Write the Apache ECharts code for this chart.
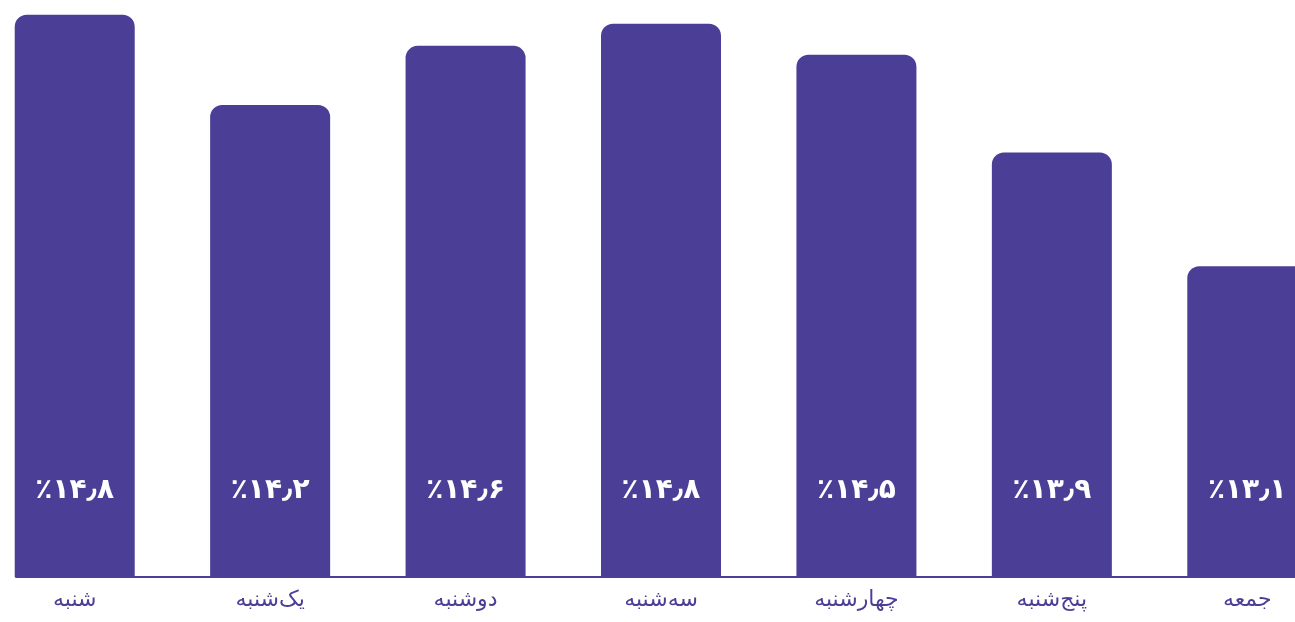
<!DOCTYPE html>
<html>
<head>
<meta charset="utf-8">
<script src="https://cdn.jsdelivr.net/npm/echarts@6/dist/echarts.min.js"></script>
<style>
html,body{margin:0;padding:0;background:#fff;}
#c{width:1295px;height:622px;}
</style>
</head>
<body>
<div id="c"></div>
<script>
const categories = ['شنبه', 'یک‌شنبه', 'دوشنبه', 'سه‌شنبه', 'چهارشنبه', 'پنج‌شنبه', 'جمعه'];
const values = [14.8, 14.19, 14.59, 14.74, 14.53, 13.87, 13.10];
const valueLabels = ['٪۱۴٫۸', '٪۱۴٫۲', '٪۱۴٫۶', '٪۱۴٫۸', '٪۱۴٫۵', '٪۱۳٫۹', '٪۱۳٫۱'];

const purple = '#4b3e96';
const chart = echarts.init(document.getElementById('c'));
chart.setOption({
  animation: false,
  grid: [
    { left: -23, width: 1368, top: 0, bottom: 45, outerBoundsMode: 'none', containLabel: false },
    { left: 16, right: 0, top: 0, bottom: 45, outerBoundsMode: 'none', containLabel: false }
  ],
  xAxis: [
    {
      type: 'category', gridIndex: 0, data: categories,
      axisLine: { show: false }, axisTick: { show: false },
      axisLabel: { color: purple, fontSize: 22, fontFamily: 'DejaVu Sans', margin: 12 }
    },
    {
      type: 'category', gridIndex: 1, data: categories,
      axisLine: { show: true, lineStyle: { color: purple, width: 2 } },
      axisTick: { show: false }, axisLabel: { show: false }
    }
  ],
  yAxis: [
    { type: 'value', gridIndex: 0, min: 11, max: 14.9, show: false, splitLine: { show: false } },
    { type: 'value', gridIndex: 1, min: 11, max: 14.9, show: false, splitLine: { show: false } }
  ],
  series: [{
    type: 'bar', xAxisIndex: 0, yAxisIndex: 0,
    data: values, barWidth: 120,
    itemStyle: { color: purple, borderRadius: [12, 12, 0, 0] },
    label: {
      show: true, position: 'insideBottom', distance: 72,
      color: '#fff', fontSize: 28, fontWeight: 'bold', fontFamily: 'DejaVu Sans',
      formatter: p => valueLabels[p.dataIndex]
    }
  }]
});
</script>
</body>
</html>
